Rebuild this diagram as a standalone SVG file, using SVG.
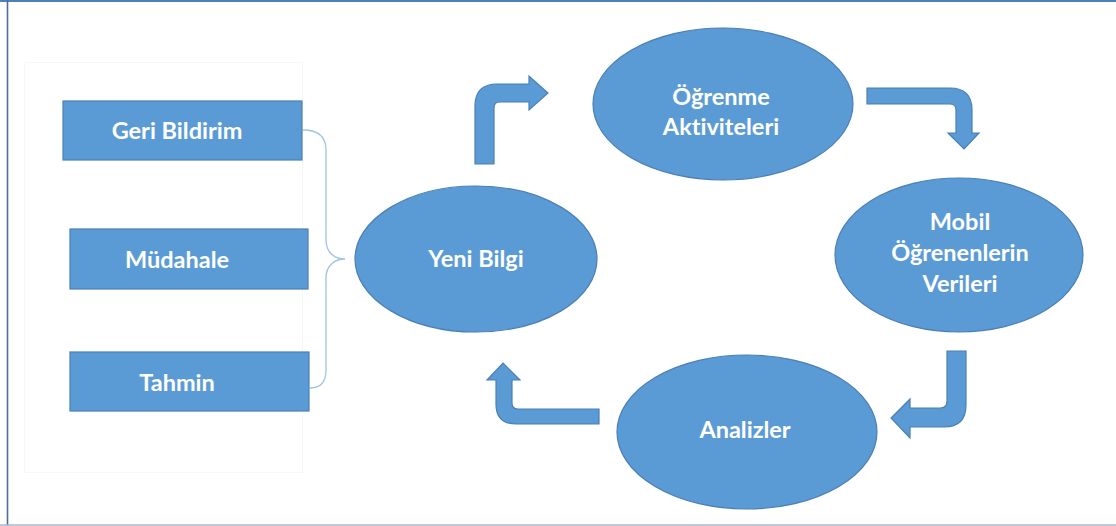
<svg xmlns="http://www.w3.org/2000/svg" width="1116" height="526" viewBox="0 0 1116 526">
<style>
.shape{fill:#5b9bd5;stroke:#4a7fb5;stroke-width:1.2}
.lbl{font-family:Lato,"Open Sans","Liberation Sans",sans-serif;font-weight:bold;font-size:23.5px;fill:#ffffff;text-anchor:middle;font-variant-ligatures:none}
.brace{fill:none;stroke:#9dc3e6;stroke-width:1.3}
</style>
<rect x="0" y="0" width="1116" height="526" fill="#ffffff"/>
<line x1="0" y1="1" x2="1116" y2="1" stroke="#4f7fb8" stroke-width="2"/>
<line x1="7.5" y1="0" x2="7.5" y2="526" stroke="#4a6f9f" stroke-width="1.6"/>
<line x1="0" y1="525" x2="1116" y2="525" stroke="#a9b9cf" stroke-width="1.5"/>
<rect x="24.5" y="62.5" width="278" height="410" fill="none" stroke="#f7f7f7" stroke-width="1"/>

<g id="geri-bildirim">
<rect class="shape" x="63" y="101" width="239" height="59"/>
<text class="lbl" x="177" y="139">Geri Bildirim</text>
</g>
<g id="mudahale">
<rect class="shape" x="70" y="229" width="238" height="60"/>
<text class="lbl" x="177" y="268">Müdahale</text>
</g>
<g id="tahmin">
<rect class="shape" x="70" y="352" width="239" height="59"/>
<text class="lbl" x="177" y="391">Tahmin</text>
</g>

<g id="yeni-bilgi">
<ellipse class="shape" cx="476" cy="259" rx="121" ry="73"/>
<text class="lbl" x="476" y="267">Yeni Bilgi</text>
</g>
<g id="ogrenme-aktiviteleri">
<ellipse class="shape" cx="723" cy="104" rx="130" ry="76"/>
<text class="lbl" x="721" y="105">Öğrenme</text>
<text class="lbl" x="721" y="135">Aktiviteleri</text>
</g>
<g id="mobil-verileri">
<ellipse class="shape" cx="959" cy="255" rx="124" ry="77"/>
<text class="lbl" x="960" y="230">Mobil</text>
<text class="lbl" x="960" y="261">Öğrenenlerin</text>
<text class="lbl" x="960" y="292">Verileri</text>
</g>
<g id="analizler">
<ellipse class="shape" cx="747" cy="432" rx="130" ry="77"/>
<text class="lbl" x="745" y="438">Analizler</text>
</g>

<g id="connectors">
<path class="brace" d="M303,130 C318,130 326,136 326,150 L326,240 C326,252 334,259 345,259 C334,259 326,266 326,278 L326,370 C326,382 320,388 310,388"/>
<path class="shape" d="M475,164 L475,106 Q475,84 497,84 L529,84 L529,76 L548,93 L529,110 L529,102 L500,102 Q494,102 494,108 L494,164 Z"/>
<path class="shape" d="M867,88 L950,88 Q972,88 972,110 L972,133 L979,133 L964,149 L948,133 L956,133 L956,110 Q956,104 950,104 L867,104 Z"/>
<path class="shape" d="M947,351 L966,351 L966,405 Q966,427 944,427 L910,427 L910,438 L891,418 L910,399 L910,408 L940,408 Q947,408 947,401 Z"/>
<path class="shape" d="M599,409 L518,409 Q512,409 512,403 L512,380 L520,380 L503,363 L487,380 L496,380 L496,404 Q496,424 516,424 L599,424 Z"/>
</g>
</svg>
